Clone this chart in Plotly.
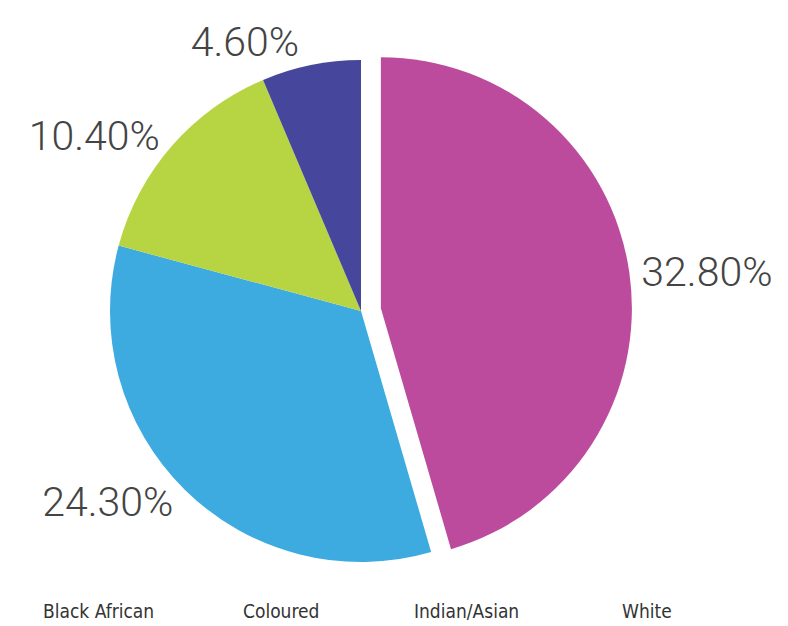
import plotly.graph_objects as go

# Legend order (as shown under the chart)
categories = ["Black African", "Coloured", "Indian/Asian", "White"]
values = [4.60, 10.40, 24.30, 32.80]
value_labels = ["4.60%", "10.40%", "24.30%", "32.80%"]
colors = ["#46479c", "#b7d443", "#3eabe0", "#bc4b9e"]
pulls = [0, 0, 0, 0.08]

W, H = 788, 626
cx, cy, r = 361, 311, 251
half = r * (1 + max(pulls))

# pie drawn clockwise from 12 o'clock starting with "White"
order = list(reversed(range(len(categories))))

fig = go.Figure(go.Pie(
    labels=[categories[i] for i in order],
    values=[values[i] for i in order],
    text=[value_labels[i] for i in order],
    textinfo="text",
    textposition="outside",
    sort=False,
    direction="clockwise",
    rotation=0,
    pull=[pulls[i] for i in order],
    marker=dict(colors=[colors[i] for i in order], line=dict(width=0)),
    outsidetextfont=dict(family="Roboto Light, Roboto, sans-serif", size=41, color="#444444"),
    hoverinfo="label+text",
    automargin=False,
    domain=dict(x=[(cx - half) / W, (cx + half) / W],
                y=[1 - (cy + half) / H, 1 - (cy - half) / H]),
    showlegend=False,
))

legend_x = [98, 281, 466, 647]
for name, x in zip(categories, legend_x):
    fig.add_annotation(
        text=name, x=x / W, y=1 - 611 / H, xref="paper", yref="paper",
        showarrow=False, xanchor="center", yanchor="middle",
        font=dict(family="Liberation Sans Narrow, DejaVu Sans Condensed, sans-serif", size=19, color="#333333"),
    )

fig.update_layout(
    width=W, height=H,
    margin=dict(l=0, r=0, t=0, b=0, autoexpand=False),
    paper_bgcolor="white", plot_bgcolor="white",
)

fig.write_html("out.html")
